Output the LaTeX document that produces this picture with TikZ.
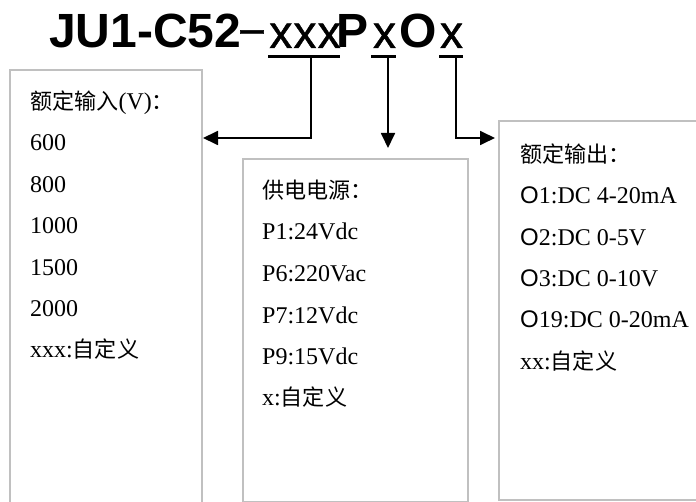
\documentclass[tikz,border=0pt]{standalone}
\usepackage{fontspec}
\setmainfont{Liberation Serif}
\newfontfamily\cjk[Scale=0.92]{Noto Sans CJK SC}
\newfontfamily\titlefont{Liberation Sans}
\newfontfamily\xfont[FakeBold=1,LetterSpace=2.5]{Liberation Sans}
\newfontfamily\osans{Liberation Sans}
\usetikzlibrary{arrows.meta}
\definecolor{boxgray}{HTML}{C0C0C0}
\begin{document}
\begin{tikzpicture}[x=1pt,y=-1pt,
  box/.style={draw=boxgray,line width=2pt,inner sep=0pt,anchor=north west},
  txt/.style={anchor=base west,inner sep=0pt,font=\fontsize{24}{28}\selectfont},
  ttlb/.style={inner sep=0pt,anchor=base,font=\titlefont\bfseries\fontsize{48}{52}\selectfont},
  ttlr/.style={inner sep=0pt,anchor=base,font=\xfont\fontsize{46}{52}\selectfont},
  conn/.style={line width=1.8pt,-{Triangle[length=15pt,width=14pt]}},
  uline/.style={line width=3pt}]
\useasboundingbox (0,0) rectangle (696,502);
\begin{scope}
\clip (0,0) rectangle (696,502);
% boxes
\node[box,minimum width=192pt,minimum height=461pt] (leftbox) at (9,69) {};
\node[box,minimum width=225pt,minimum height=343pt] (midbox) at (242,158) {};
\node[box,minimum width=215pt,minimum height=379pt] (rightbox) at (498,120) {};
% title
\node[ttlb,anchor=base west] (t1) at (49,48) {JU1-C52};
\node[ttlr,font=\xfont\fontsize{48}{52}\selectfont] (t2) at (252,48) {−};
\node[ttlr] (t3) at (305,48) {xxx};
\node[ttlb] (t4) at (353,48) {P};
\node[ttlr] (t5) at (384.5,48) {x};
\node[ttlb] (t6) at (418,48) {O};
\node[ttlr] (t7) at (451.5,48) {x};
\draw[uline] (268,57) -- (340,57);
\draw[uline] (371,57) -- (396,57);
\draw[uline] (439,57) -- (463,57);
% connectors
\coordinate (a1) at (311,58);
\coordinate (k1) at (311,138);
\draw[conn] (a1) -- (k1) -- (k1 -| leftbox.east);
\coordinate (a2) at (388,58);
\coordinate (k2) at (388,148);
\draw[conn] (a2) -- (k2);
\coordinate (a3) at (456,58);
\coordinate (k3) at (456,138);
\coordinate (e3) at (495,138);
\draw[conn] (a3) -- (k3) -- (e3);
% left box text
\node[txt] (l0) at (30,110) {{\cjk 额定输入}(V){\cjk ：}};
\node[txt] (l1) at (30,151) {600};
\node[txt] (l2) at (30,193) {800};
\node[txt] (l3) at (30,234) {1000};
\node[txt] (l4) at (30,276) {1500};
\node[txt] (l5) at (30,317) {2000};
\node[txt] (l6) at (30,358) {xxx:{\cjk 自定义}};
% middle box text
\node[txt] (m0) at (262,199) {{\cjk 供电电源：}};
\node[txt] (m1) at (262,240) {P1:24Vdc};
\node[txt] (m2) at (262,282) {P6:220Vac};
\node[txt] (m3) at (262,324) {P7:12Vdc};
\node[txt] (m4) at (262,365) {P9:15Vdc};
\node[txt] (m5) at (262,406) {x:{\cjk 自定义}};
% right box text
\node[txt] (r0) at (520,163) {{\cjk 额定输出：}};
\node[txt] (r1) at (520,204) {{\osans O}1:DC 4-20mA};
\node[txt] (r2) at (520,246) {{\osans O}2:DC 0-5V};
\node[txt] (r3) at (520,287) {{\osans O}3:DC 0-10V};
\node[txt] (r4) at (520,328) {{\osans O}19:DC 0-20mA};
\node[txt] (r5) at (520,370) {xx:{\cjk 自定义}};
\end{scope}
\end{tikzpicture}
\end{document}
